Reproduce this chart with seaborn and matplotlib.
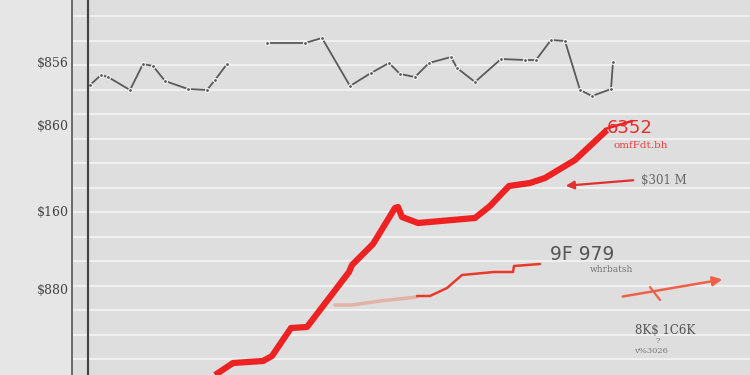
import numpy as np
import pandas as pd
import matplotlib
matplotlib.use("Agg")
import matplotlib.pyplot as plt
import seaborn as sns

# ---- data (y scale: 0 bottom .. 375 top) ----
grey_x1 = [90, 101, 108, 130, 143, 153, 165, 188, 207, 215, 227]
grey_y1 = [290, 300, 298, 285, 311, 309, 294, 286, 285, 295, 311]
grey_x2 = [267, 305, 322, 350, 371, 389, 400, 415, 429, 451, 457, 475, 501, 525, 536, 551, 565, 580, 592, 611, 613]
grey_y2 = [332, 332, 337, 289, 302, 312, 301, 298, 312, 318, 307, 293, 316, 315, 315, 335, 334, 285, 279, 286, 313]

red_x = [215, 233, 263, 272, 291, 307, 333, 349, 352, 373, 395, 398, 402, 418, 475, 490, 509, 530, 545, 575, 607]
red_y = [0, 12, 14, 19, 47, 48, 82, 103, 110, 131, 167, 168, 158, 152, 157, 169, 189, 192, 197, 215, 245]
red_tail_x = [605, 632]
red_tail_y = [246, 254]

red2_faint_x = [335, 352, 380, 417]
red2_faint_y = [70, 70, 74, 78]
red2_x = [417, 430, 447, 462, 494, 513, 514, 540]
red2_y = [79, 79, 87, 100, 103, 103, 109, 111]

ytick_vals = [313, 250, 164, 86]
ytick_labels = ["$856", "$860", "$160", "$880"]
grid_vals = [359 - 24.5 * i for i in range(15)]

sns.set_theme(style="white")
plt.rcParams['font.family'] = ['DejaVu Serif', 'DejaVu Sans']

fig = plt.figure(figsize=(7.5, 3.75), dpi=100)
fig.patch.set_facecolor("#e6e6e6")
ax = fig.add_axes([72 / 750, 0, 1 - 72 / 750, 1])
ax.set_facecolor("#dedede")

grey_df = pd.DataFrame({
    "x": grey_x1 + grey_x2,
    "y": grey_y1 + grey_y2,
    "seg": [0] * len(grey_x1) + [1] * len(grey_x2),
})
sns.lineplot(data=grey_df, x="x", y="y", units="seg", estimator=None, sort=False,
             color="#5a5a5a", lw=1.3, marker="o", markersize=2.8, ax=ax, legend=False)

sns.lineplot(x=red2_faint_x, y=red2_faint_y, sort=False, estimator=None,
             color="#e86040", alpha=0.35, lw=2.5, ax=ax)
sns.lineplot(x=red2_x, y=red2_y, sort=False, estimator=None,
             color="#e83a2a", lw=1.8, ax=ax)
sns.lineplot(x=red_x, y=red_y, sort=False, estimator=None,
             color="#ee2222", lw=4.5, solid_capstyle="butt", ax=ax)
sns.lineplot(x=red_tail_x, y=red_tail_y, sort=False, estimator=None,
             color="#ee2222", lw=1.8, ax=ax)

ax.axvline(88, color="#444444", lw=1.6)

# arrows
ax.annotate("", xy=(563, 189), xytext=(636, 195),
            arrowprops=dict(arrowstyle="-|>", color="#e03030", lw=1.6, mutation_scale=12))
ax.annotate("", xy=(725, 96), xytext=(620, 78),
            arrowprops=dict(arrowstyle="-|>", color="#f06048", lw=1.8, mutation_scale=14))
ax.plot([650, 660], [88, 75], color="#f06048", lw=1.6)

# annotations
ax.text(607, 247, "6352", color="#e82a2a", fontsize=13, va="center", ha="left", family="DejaVu Sans")
ax.text(614, 229, "omfFdt.bh", color="#e84040", fontsize=7.5, va="center", ha="left")
ax.text(641, 195, "$301 M", color="#666666", fontsize=8.5, va="center", ha="left")
ax.text(550, 121, "9F 979", color="#555555", fontsize=13.5, va="center", ha="left", family="DejaVu Sans")
ax.text(590, 105, "whrbatsh", color="#777777", fontsize=6.5, va="center", ha="left")
ax.text(635, 45, "8K$ 1C6K", color="#555555", fontsize=8.5, va="center", ha="left")
ax.text(655, 34, "?", color="#777777", fontsize=6, va="center", ha="left")
ax.text(634, 24, "v%3026", color="#777777", fontsize=6, va="center", ha="left")

ax.set_xlim(72, 750)
ax.set_ylim(0, 375)
ax.set_yticks(ytick_vals)
ax.set_yticklabels(ytick_labels, fontsize=9, color="#444444")
ax.set_yticks(grid_vals, minor=True)
ax.yaxis.grid(True, which="minor", color="#f6f6f6", lw=1.1)
ax.yaxis.grid(False, which="major")
ax.tick_params(axis="y", which="both", length=0, pad=2)
ax.set_xticks([])
ax.set_xlabel("")
ax.set_ylabel("")
for s in ["top", "right", "bottom"]:
    ax.spines[s].set_visible(False)
ax.spines["left"].set_color("#555555")
ax.spines["left"].set_linewidth(1.2)

fig.savefig("out.png", dpi=100, facecolor=fig.get_facecolor())
